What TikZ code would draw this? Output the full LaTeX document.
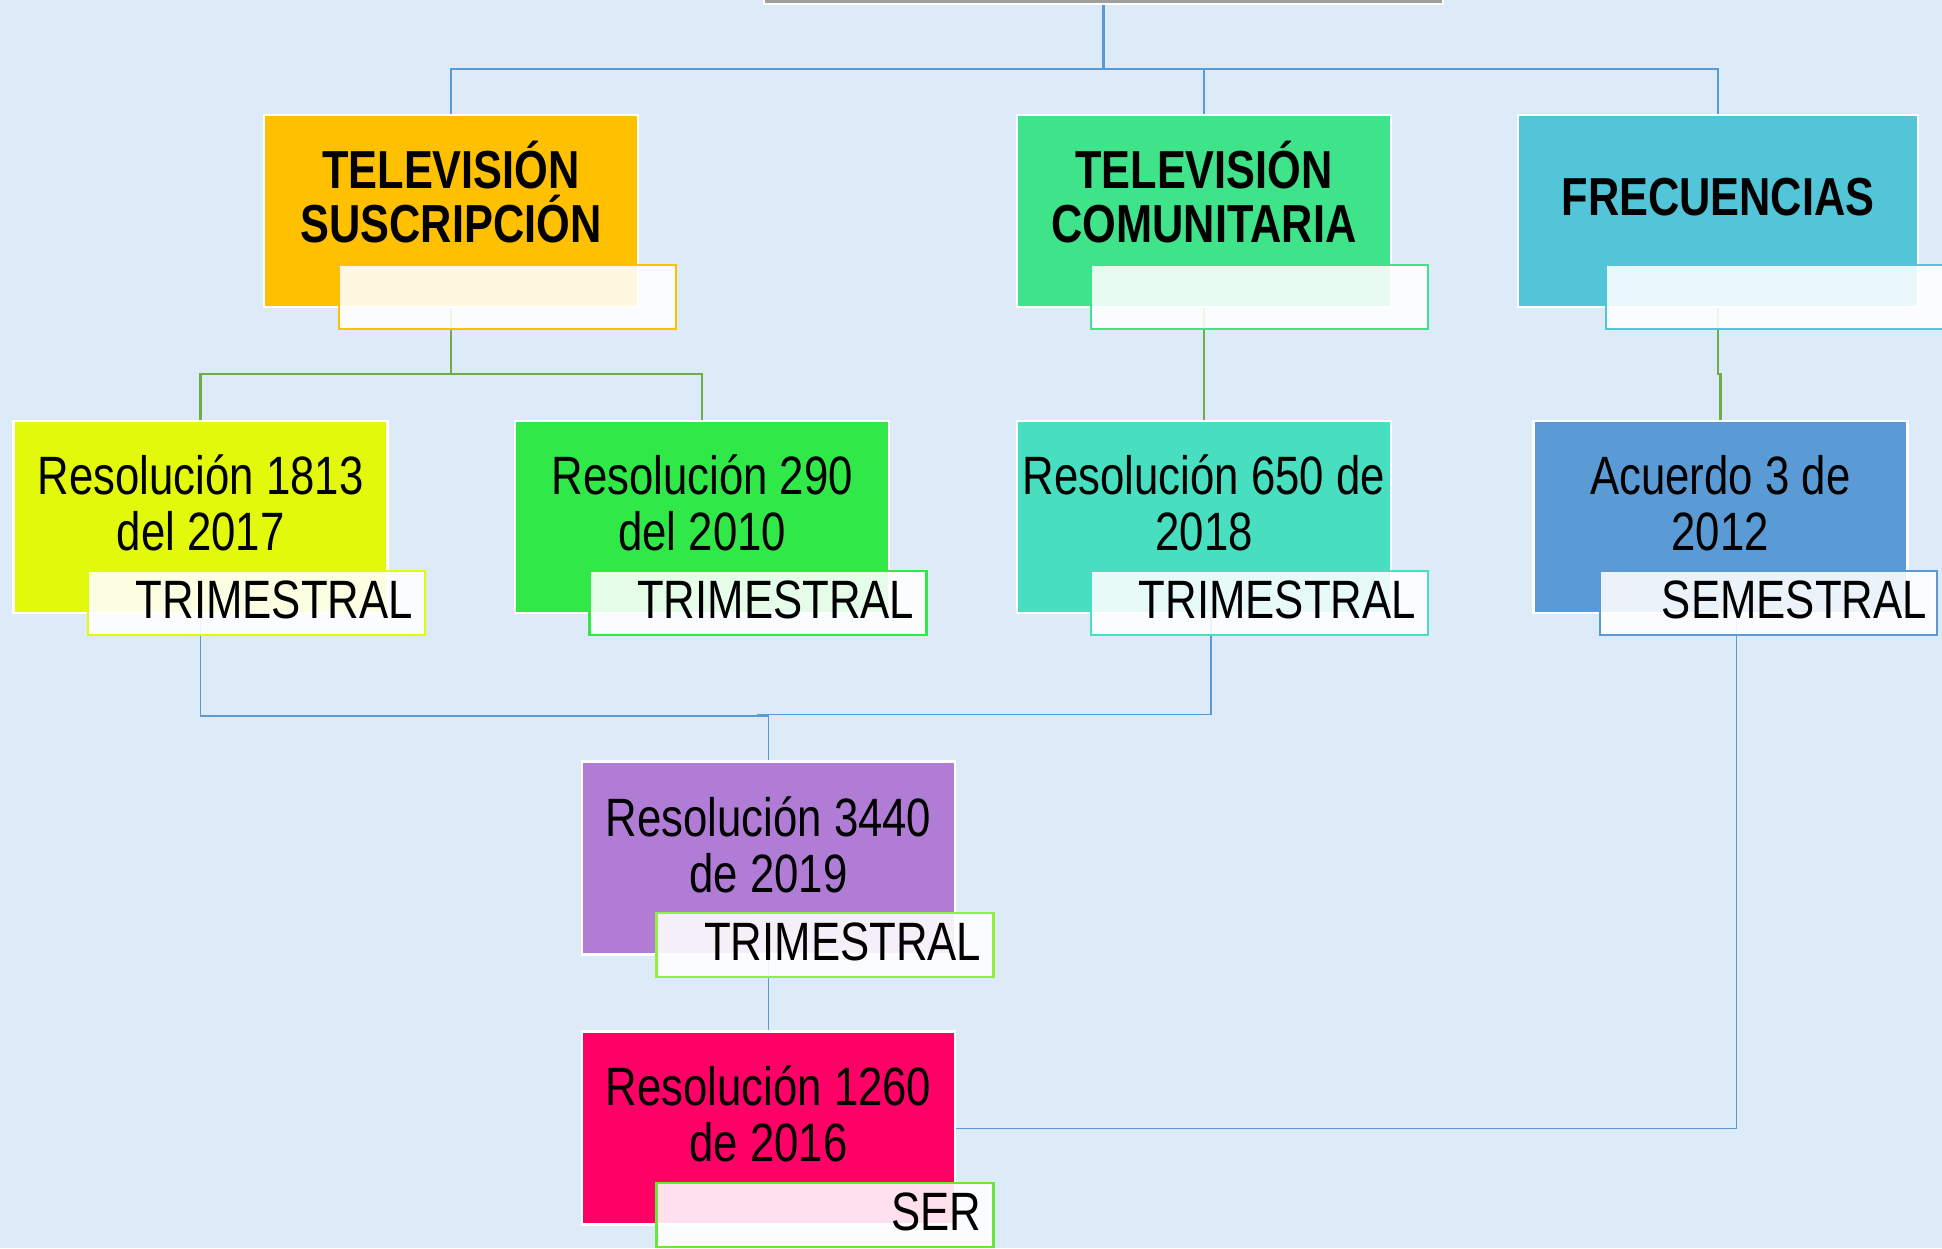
\documentclass[tikz,border=0pt]{standalone}
\usepackage{fontspec}
\setmainfont{Liberation Sans}[FakeStretch=0.81]
\usetikzlibrary{calc}
\pgfdeclarelayer{back}
\pgfdeclarelayer{links}
\pgfsetlayers{back,links,main}
\definecolor{bgc}{HTML}{DDEBF8}
\definecolor{lblue}{HTML}{5B9BD5}
\definecolor{lgreen}{HTML}{70AD47}
\definecolor{cTVS}{HTML}{FFC000}
\definecolor{cTVC}{HTML}{3EE38A}
\definecolor{cFRE}{HTML}{52C5D8}
\definecolor{cR1813}{HTML}{E2F90C}
\definecolor{cR290}{HTML}{30E848}
\definecolor{cR650}{HTML}{48DEC0}
\definecolor{cACU}{HTML}{5B9BD5}
\definecolor{cR3440}{HTML}{B07CD6}
\definecolor{cR1260}{HTML}{FF0066}
\definecolor{bR3440}{HTML}{92F03A}
\definecolor{bR1260}{HTML}{66E83A}
\tikzset{
  box/.style={draw=white, line width=2.5pt, minimum width=374pt, minimum height=192pt, anchor=north west, inner sep=0pt, outer sep=0pt},
  subbox/.style={fill=white, fill opacity=0.88, text opacity=1, line width=2.5pt, minimum width=337pt, minimum height=64pt, anchor=north west, inner sep=0pt, outer sep=0pt},
  ttl/.style={font=\bfseries\fontsize{53.5}{54.5}\selectfont, align=center, inner sep=0pt},
  txt/.style={font=\fontsize{54}{56}\selectfont, align=center, inner sep=0pt},
  tag/.style={font=\fontsize{54}{56}\selectfont, anchor=east, inner sep=0pt},
  conA/.style={draw=lblue, line width=2.5pt},
  conB/.style={draw=lgreen, line width=2.5pt},
  conC/.style={draw=lblue, line width=1.4pt},
}
\begin{document}
\begin{tikzpicture}[x=1pt,y=-1pt]
\useasboundingbox (0,0) rectangle (1942,1248);
\begin{pgfonlayer}{back}
\fill[bgc] (0,0) rectangle (1942,1248);
\end{pgfonlayer}
\clip (0,0) rectangle (1942,1248);

% top box (mostly outside the frame)
\node[draw=white, fill=gray!75, line width=2.5pt, minimum width=679pt, minimum height=120pt, anchor=south west, inner sep=0pt, outer sep=0pt] (top) at (764,4) {};

% level 1
\node[box, fill=cTVS] (tvs) at (264,115) {};
\node[box, fill=cTVC] (tvc) at (1017,115) {};
\node[box, fill=cFRE, minimum width=400pt] (frec) at (1518,115) {};
\node[subbox, draw=cTVS] (tvsS) at (339,265) {};
\node[subbox, draw=cTVC] (tvcS) at (1091,265) {};
\node[subbox, draw=cFRE, minimum width=350pt] (frecS) at (1606,265) {};
\node[ttl] (tvsT) at (451,192) {TELEVISIÓN\\SUSCRIPCIÓN};
\node[ttl] (tvcT) at (1204,192) {TELEVISIÓN\\COMUNITARIA};
\node[ttl] (frecT) at (1718,197) {FRECUENCIAS};

% level 2
\node[box, fill=cR1813] (r1813) at (13.6,421) {};
\node[box, fill=cR290] (r290) at (515.2,421) {};
\node[box, fill=cR650] (r650) at (1017,421) {};
\node[box, fill=cACU] (acu) at (1533.3,421) {};
\node[subbox, draw=cR1813] (r1813S) at (88,571) {};
\node[subbox, draw=cR290] (r290S) at (589.5,571) {};
\node[subbox, draw=cR650] (r650S) at (1091,571) {};
\node[subbox, draw=cACU] (acuS) at (1600,571) {};
\node[txt] (r1813T) at (200.6,503) {Resolución 1813\\del 2017};
\node[txt] (r290T) at (702.2,503) {Resolución 290\\del 2010};
\node[txt] (r650T) at (1204,503) {Resolución 650 de\\2018};
\node[txt] (acuT) at (1720.3,503) {Acuerdo 3 de\\2012};
\node[tag] (r1813L) at ($(r1813S.east)+(-12,-3)$) {TRIMESTRAL};
\node[tag] (r290L) at ($(r290S.east)+(-12,-3)$) {TRIMESTRAL};
\node[tag] (r650L) at ($(r650S.east)+(-12,-3)$) {TRIMESTRAL};
\node[tag] (acuL) at ($(acuS.east)+(-10,-3)$) {SEMESTRAL};

% level 3
\node[box, fill=cR3440, minimum width=373pt, minimum height=193pt] (r3440) at (582,761.7) {};
\node[box, fill=cR1260, minimum width=373pt, minimum height=193pt] (r1260) at (582,1031.7) {};
\node[subbox, draw=bR3440] (r3440S) at (656.4,913) {};
\node[subbox, draw=bR1260] (r1260S) at (656.4,1183) {};
\node[txt] (r3440T) at (768.5,845) {Resolución 3440\\de 2019};
\node[txt] (r1260T) at (768.5,1114) {Resolución 1260\\de 2016};
\node[tag] (r3440L) at ($(r3440S.east)+(-12,-3)$) {TRIMESTRAL};
\node[tag] (r1260L) at ($(r1260S.east)+(-12,-3)$) {SER};

% connectors
\coordinate (hub) at (1103.5,69);
\coordinate (h1) at (451,374);
\coordinate (h3) at (1718,374);
\coordinate (jn) at (768.5,716);
\begin{pgfonlayer}{links}
\draw[conA] (top.south) -- (hub) -| (tvs.north);
\draw[conA] (hub) -| (tvc.north);
\draw[conA] (hub) -| (frec.north);
\draw[conB] (tvs.south) -- (h1) -| (r1813.north);
\draw[conB] (h1) -| (r290.north);
\draw[conB] (tvc.south) -- (r650.north);
\draw[conB] (frec.south) -- (h3) -| (acu.north);
\draw[conC] (r1813.south) |- (jn) -- (r3440.north);
\draw[conC] ($(r650.south)+(7,0)$) |- ($(jn)+(-12,-1.5)$);
\draw[conC] (r3440.south) -- (r1260.north);
\draw[conC] ($(acu.south)+(16,0)$) |- (r1260.east);
\end{pgfonlayer}
\end{tikzpicture}
\end{document}
